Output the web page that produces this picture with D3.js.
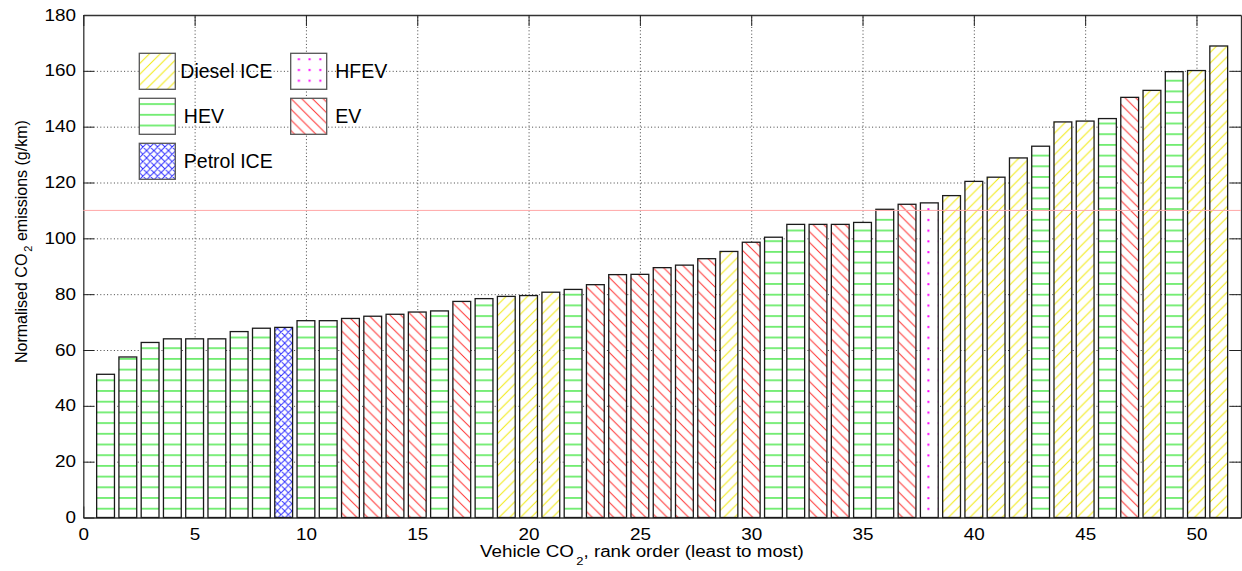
<!DOCTYPE html>
<html>
<head>
<meta charset="utf-8">
<script src="https://cdn.jsdelivr.net/npm/d3@7"></script>
<style>
  body { margin: 0; background: #fff; }
  text { font-family: "Liberation Sans", Arial, sans-serif; fill: #000; }
</style>
</head>
<body>
<svg id="chart" width="1242" height="571"></svg>
<script>
// data (rank 1..51)
const values = [51.3, 57.5, 62.7, 64.0, 64.0, 64.0, 66.6, 67.8, 68.1, 70.5,
                70.5, 71.3, 72.1, 72.8, 73.6, 74.0, 77.4, 78.4, 79.2, 79.5,
                80.7, 81.7, 83.4, 87.0, 87.1, 89.5, 90.4, 92.7, 95.3, 98.6,
                100.4, 105.0, 105.0, 105.0, 105.7, 110.4, 112.2, 112.7, 115.3, 120.4,
                121.9, 128.8, 133.0, 141.7, 142.0, 142.9, 150.5, 153.0, 159.7, 160.1,
                168.9];
const types = ["HEV","HEV","HEV","HEV","HEV","HEV","HEV","HEV","Petrol ICE","HEV",
               "HEV","EV","EV","EV","EV","HEV","EV","HEV","Diesel ICE","Diesel ICE",
               "Diesel ICE","HEV","EV","EV","EV","EV","EV","EV","Diesel ICE","EV",
               "HEV","HEV","EV","EV","HEV","HEV","EV","HFEV","Diesel ICE","Diesel ICE",
               "Diesel ICE","Diesel ICE","HEV","Diesel ICE","Diesel ICE","HEV","EV","Diesel ICE","HEV","Diesel ICE",
               "Diesel ICE"];
const legendLabels = ["Diesel ICE", "HEV", "Petrol ICE", "HFEV", "EV"];
const xTicks = [0, 5, 10, 15, 20, 25, 30, 35, 40, 45, 50];
const yTicks = [0, 20, 40, 60, 80, 100, 120, 140, 160, 180];
const targetLine = 110;

const svg = d3.select("#chart");
const pLeft = 83.3, pRight = 1241, pTop = 15, pBottom = 517.5;

const x = d3.scaleLinear().domain([0, 52]).range([pLeft, pRight]);
const y = d3.scaleLinear().domain([0, 180]).range([pBottom, pTop]);

//------------------------------------------------------------------------------
// hatch patterns
//------------------------------------------------------------------------------
const defs = svg.append("defs");
function pattern(id, w, h) {
  const p = defs.append("pattern").attr("id", id)
    .attr("patternUnits", "userSpaceOnUse")
    .attr("width", w).attr("height", h);
  p.append("rect").attr("width", w).attr("height", h).attr("fill", "#fff");
  return p;
}
const s = 10.7;
pattern("hev", 10, s).append("line")
  .attr("x1", 0).attr("x2", 10).attr("y1", 5.8).attr("y2", 5.8)
  .attr("stroke", "#10e010").attr("stroke-width", 1.1);
pattern("ev", s, s).append("path")
  .attr("d", `M0,0L${s},${s}M-1,${s-1}L1,${s+1}M${s-1},-1L${s+1},1`)
  .attr("stroke", "#ff3030").attr("stroke-width", 1);
pattern("diesel", s, s).append("path")
  .attr("d", `M0,${s}L${s},0M-1,1L1,-1M${s-1},${s+1}L${s+1},${s-1}`)
  .attr("stroke", "#f2ea10").attr("stroke-width", 1);
const c = 7.3;
pattern("petrol", c, c).append("path")
  .attr("d", `M0,0L${c},${c}M-1,${c-1}L1,${c+1}M${c-1},-1L${c+1},1` +
             `M0,${c}L${c},0M-1,1L1,-1M${c-1},${c+1}L${c+1},${c-1}`)
  .attr("stroke", "#3030ff").attr("stroke-width", 1);
pattern("hfev", s, s).append("rect")
  .attr("x", 7.2).attr("y", 5).attr("width", 2).attr("height", 2)
  .attr("fill", "#ff00ff");

const fillOf = {"Diesel ICE": "url(#diesel)", "HEV": "url(#hev)",
                "Petrol ICE": "url(#petrol)", "HFEV": "url(#hfev)", "EV": "url(#ev)"};

//------------------------------------------------------------------------------
// grid
//------------------------------------------------------------------------------
const grid = svg.append("g").attr("class", "grid");
grid.append("g").attr("transform", `translate(0,${pBottom})`)
  .call(d3.axisBottom(x).tickValues(xTicks.filter(d => d > 0)).tickSize(-(pBottom - pTop)).tickFormat(""));
grid.append("g").attr("transform", `translate(${pLeft},0)`)
  .call(d3.axisLeft(y).tickValues(yTicks.filter(d => d > 0 && d < 180)).tickSize(-(pRight - pLeft)).tickFormat(""));
grid.selectAll(".domain").remove();
grid.selectAll("line").attr("stroke", "#444").attr("stroke-dasharray", "1,2.4").attr("stroke-width", 1);

//------------------------------------------------------------------------------
// axes (ticks inward, box on)
//------------------------------------------------------------------------------
const tk = 11;
const ax = svg.append("g");
ax.append("g").attr("transform", `translate(0,${pBottom})`)
  .call(d3.axisBottom(x).tickValues(xTicks).tickSizeInner(-tk).tickSizeOuter(0).tickPadding(11));
ax.append("g").attr("transform", `translate(${pLeft},0)`)
  .call(d3.axisLeft(y).tickValues(yTicks).tickSizeInner(-tk).tickSizeOuter(0).tickPadding(6.2));
ax.append("g").attr("transform", `translate(0,${pTop})`)
  .call(d3.axisTop(x).tickValues(xTicks).tickSizeInner(-tk).tickSizeOuter(0).tickFormat(""));
ax.append("g").attr("transform", `translate(${pRight},0)`)
  .call(d3.axisRight(y).tickValues(yTicks).tickSizeInner(-tk).tickSizeOuter(0).tickFormat(""));
ax.selectAll(".domain").attr("stroke", "#333").attr("stroke-width", 1.3);
ax.selectAll(".tick line").attr("stroke", "#222");
ax.selectAll(".tick text").attr("font-size", 16)
  .attr("font-family", "Liberation Sans, Arial, sans-serif")
  .attr("transform", "scale(1.18,1)");

//------------------------------------------------------------------------------
// bars
//------------------------------------------------------------------------------
const bw = 0.8;
svg.append("g").selectAll("rect")
  .data(values)
  .join("rect")
  .attr("x", (d, i) => x(i + 1 - bw / 2))
  .attr("width", x(bw) - x(0))
  .attr("y", d => y(d))
  .attr("height", d => y(0) - y(d))
  .attr("fill", (d, i) => fillOf[types[i]])
  .attr("stroke", "#1a1a1a")
  .attr("stroke-width", 1.3);

// reference line
svg.append("line")
  .attr("x1", pLeft).attr("x2", pRight)
  .attr("y1", y(targetLine)).attr("y2", y(targetLine))
  .attr("stroke", "#ffa8a8").attr("stroke-width", 1);

//------------------------------------------------------------------------------
// legend
//------------------------------------------------------------------------------
const lg = svg.append("g").selectAll("g")
  .data(legendLabels)
  .join("g")
  .attr("transform", (d, i) => `translate(${139.3 + Math.floor(i / 3) * 151.4},${53.3 + (i % 3) * 45})`);
lg.append("rect")
  .attr("width", 36).attr("height", 36)
  .attr("fill", d => fillOf[d])
  .attr("stroke", "#555").attr("stroke-width", 1.3);
lg.append("text")
  .attr("x", (d, i) => (i === 0 ? 41 : 44.5))
  .attr("y", 25)
  .attr("font-size", 19.5)
  .text(d => d);

//------------------------------------------------------------------------------
// axis labels
//------------------------------------------------------------------------------
const xl = svg.append("text")
  .attr("transform", "translate(480,556.7) scale(1.175,1)")
  .attr("font-size", 16);
xl.append("tspan").text("Vehicle CO");
xl.append("tspan").attr("dx", 2).attr("dy", 8).attr("font-size", 11).text("2");
xl.append("tspan").attr("dy", -8).text(", rank order (least to most)");

const ylab = svg.append("text")
  .attr("transform", "translate(26.7,363) rotate(-90)")
  .attr("font-size", 16);
ylab.append("tspan").text("Normalised CO");
ylab.append("tspan").attr("dx", 2).attr("dy", 5).attr("font-size", 11).text("2");
ylab.append("tspan").attr("dy", -5).text(" emissions (g/km)");
</script>
</body>
</html>
